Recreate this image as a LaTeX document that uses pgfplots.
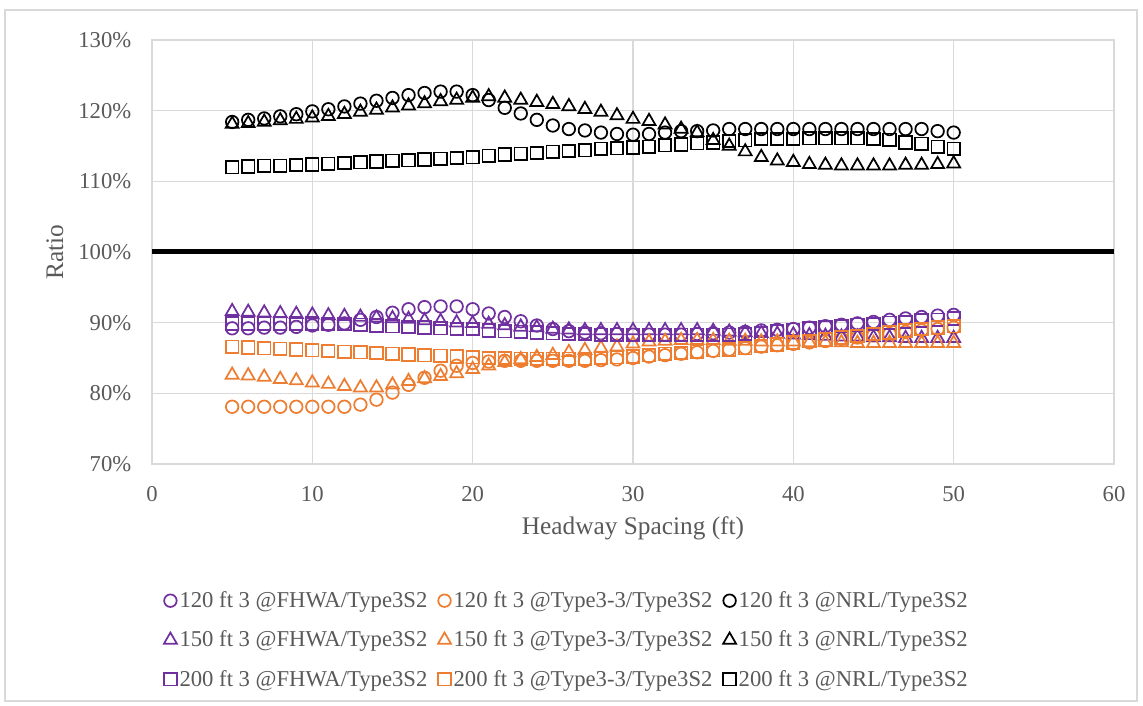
\documentclass[border=0pt]{standalone}
\usepackage{fontspec}
\setmainfont{Liberation Serif}
\usepackage{pgfplots}
\usepackage{pgfplotstable}
\pgfplotsset{compat=1.18}
\definecolor{fhwa}{HTML}{7030A0}
\definecolor{tthree}{HTML}{ED7D31}
\definecolor{gridgray}{HTML}{D9D9D9}
\definecolor{txtgray}{HTML}{595959}

% columns: x, 120 ft (circle), 150 ft (triangle), 200 ft (square)
\pgfplotstableread{
x  c   t   s
5  89.2 91.6 89.9
6  89.2 91.5 89.9
7  89.3 91.4 89.9
8  89.3 91.3 89.9
9  89.4 91.2 89.9
10 89.6 91.1 89.9
11 89.7 91.0 89.8
12 89.9 90.9 89.8
13 90.4 90.8 89.7
14 90.8 90.7 89.6
15 91.4 90.6 89.5
16 91.9 90.5 89.4
17 92.2 90.3 89.3
18 92.3 90.2 89.2
19 92.3 90.0 89.1
20 91.9 89.9 89.1
21 91.3 89.8 88.9
22 90.8 89.6 88.8
23 90.2 89.4 88.7
24 89.6 89.3 88.6
25 89.1 89.1 88.5
26 88.8 89.0 88.4
27 88.6 88.9 88.4
28 88.5 88.9 88.3
29 88.4 88.9 88.3
30 88.3 88.9 88.3
31 88.3 88.9 88.3
32 88.3 88.9 88.3
33 88.3 88.9 88.3
34 88.4 88.9 88.3
35 88.5 88.8 88.3
36 88.6 88.7 88.3
37 88.7 88.6 88.4
38 88.9 88.5 88.5
39 89.0 88.4 88.8
40 89.1 88.3 89.0
41 89.3 88.2 89.2
42 89.5 88.1 89.4
43 89.7 88.0 89.5
44 89.9 88.0 89.7
45 90.1 87.9 89.8
46 90.4 87.9 90.0
47 90.6 87.8 90.1
48 90.8 87.8 90.3
49 91.0 87.8 90.4
50 91.1 87.8 90.6
}\fhwa

\pgfplotstableread{
x  c   t   s
5  78.1 82.6 86.6
6  78.1 82.5 86.5
7  78.1 82.3 86.4
8  78.1 82.0 86.3
9  78.1 81.8 86.2
10 78.1 81.5 86.1
11 78.1 81.3 86.0
12 78.1 81.0 85.9
13 78.4 80.8 85.8
14 79.1 80.8 85.7
15 80.1 81.2 85.6
16 81.2 81.7 85.5
17 82.2 82.1 85.4
18 83.2 82.4 85.3
19 83.9 82.8 85.2
20 84.3 83.4 85.1
21 84.5 83.9 85.0
22 84.6 84.4 85.0
23 84.6 84.8 84.9
24 84.6 85.1 84.9
25 84.6 85.4 84.9
26 84.6 85.8 84.9
27 84.6 86.1 84.9
28 84.7 86.4 85.0
29 84.8 86.6 85.1
30 85.0 87.0 85.2
31 85.2 87.3 85.4
32 85.4 87.4 85.6
33 85.6 87.5 85.7
34 85.8 87.5 85.9
35 86.0 87.5 86.1
36 86.2 87.4 86.2
37 86.4 87.4 86.4
38 86.6 87.3 86.7
39 86.8 87.3 86.9
40 87.0 87.3 87.2
41 87.2 87.2 87.4
42 87.4 87.2 87.6
43 87.7 87.2 87.9
44 87.9 87.1 88.1
45 88.2 87.1 88.4
46 88.4 87.1 88.6
47 88.7 87.1 88.9
48 88.9 87.1 89.1
49 89.1 87.1 89.3
50 89.3 87.1 89.5
}\tthree

\pgfplotstableread{
x  c   t   s
5  118.4 118.1 112.0
6  118.7 118.2 112.1
7  118.9 118.4 112.2
8  119.2 118.6 112.2
9  119.5 118.8 112.3
10 119.9 119.0 112.4
11 120.2 119.2 112.5
12 120.6 119.5 112.6
13 121.0 119.8 112.7
14 121.4 120.1 112.8
15 121.8 120.4 112.9
16 122.2 120.7 113.0
17 122.5 121.0 113.1
18 122.7 121.3 113.2
19 122.7 121.5 113.3
20 122.2 121.8 113.4
21 121.5 122.0 113.6
22 120.4 121.8 113.8
23 119.6 121.5 113.9
24 118.7 121.2 114.0
25 117.9 120.9 114.2
26 117.4 120.6 114.3
27 117.2 120.2 114.4
28 116.9 119.8 114.6
29 116.7 119.3 114.7
30 116.6 118.8 114.8
31 116.7 118.5 114.9
32 116.9 118.0 115.1
33 117.1 117.4 115.2
34 117.1 116.9 115.4
35 117.2 115.8 115.5
36 117.4 115.0 115.7
37 117.4 114.2 115.8
38 117.4 113.4 116.0
39 117.4 112.9 116.0
40 117.4 112.7 116.0
41 117.4 112.4 116.1
42 117.4 112.3 116.1
43 117.4 112.2 116.1
44 117.4 112.2 116.1
45 117.4 112.2 116.0
46 117.4 112.2 115.9
47 117.4 112.3 115.5
48 117.4 112.3 115.3
49 117.1 112.4 114.9
50 116.9 112.5 114.6
}\nrl

\begin{document}
\begin{tikzpicture}[font=\fontsize{17}{20}\selectfont]
\path[use as bounding box] (-114pt,-181.5pt) rectangle (743.25pt,348pt);
\draw[gridgray, line width=1pt] (-110.25pt,-177.75pt) rectangle (738.75pt,340.5pt);
\begin{axis}[
  at={(0pt,0pt)}, anchor=south west,
  scale only axis, width=721.5pt, height=318pt,
  xmin=0, xmax=60, ymin=70, ymax=130,
  xtick={0,10,...,60}, ytick={70,80,...,130},
  /pgf/number format/assume math mode=true,
  yticklabel={\pgfmathprintnumber{\tick}\%},
  grid=major,
  major grid style={draw=gridgray, line width=1pt},
  axis line style={draw=gridgray, line width=1pt},
  tick style={draw=none},
  tick label style={text=txtgray},
  yticklabel style={xshift=-12pt},
  xticklabel style={yshift=-13pt},
  xlabel={Headway Spacing (ft)},
  ylabel={Ratio},
  label style={text=txtgray, font=\fontsize{19}{22}\selectfont},
  xlabel style={at={(axis description cs:0.5,-0.151)}, anchor=center},
  ylabel style={at={(axis description cs:-0.101,0.5)}, anchor=center},
  legend columns=3,
  legend cell align=left,
  legend style={draw=none, fill=none, at={(axis description cs:0.008,-0.288)}, anchor=north west,
    text=txtgray, row sep=12pt, font=\fontsize{17}{20}\selectfont,
    /tikz/every even column/.append style={column sep=6pt}},
  legend image code/.code={\draw[mark repeat=2,mark phase=2] plot coordinates {(0cm,0cm) (0.3cm,0cm) (0.6cm,0cm)};},
  every axis plot/.append style={line width=1.3pt, mark size=4.7pt},
]
\addplot[black, line width=3.75pt, sharp plot, mark=none, forget plot] coordinates {(0,100) (60,100)};
\addplot[fhwa, only marks, mark=o] table[x=x, y=c] {\fhwa};
\addlegendentry{120 ft 3 @FHWA/Type3S2}
\addplot[tthree, only marks, mark=o] table[x=x, y=c] {\tthree};
\addlegendentry{120 ft 3 @Type3-3/Type3S2}
\addplot[black, only marks, mark=o] table[x=x, y=c] {\nrl};
\addlegendentry{120 ft 3 @NRL/Type3S2}
\addplot[fhwa, only marks, mark=triangle, mark size=5.6pt] table[x=x, y=t] {\fhwa};
\addlegendentry{150 ft 3 @FHWA/Type3S2}
\addplot[tthree, only marks, mark=triangle, mark size=5.6pt] table[x=x, y=t] {\tthree};
\addlegendentry{150 ft 3 @Type3-3/Type3S2}
\addplot[black, only marks, mark=triangle, mark size=5.6pt] table[x=x, y=t] {\nrl};
\addlegendentry{150 ft 3 @NRL/Type3S2}
\addplot[fhwa, only marks, mark=square] table[x=x, y=s] {\fhwa};
\addlegendentry{200 ft 3 @FHWA/Type3S2}
\addplot[tthree, only marks, mark=square] table[x=x, y=s] {\tthree};
\addlegendentry{200 ft 3 @Type3-3/Type3S2}
\addplot[black, only marks, mark=square] table[x=x, y=s] {\nrl};
\addlegendentry{200 ft 3 @NRL/Type3S2}
\end{axis}
\end{tikzpicture}
\end{document}
